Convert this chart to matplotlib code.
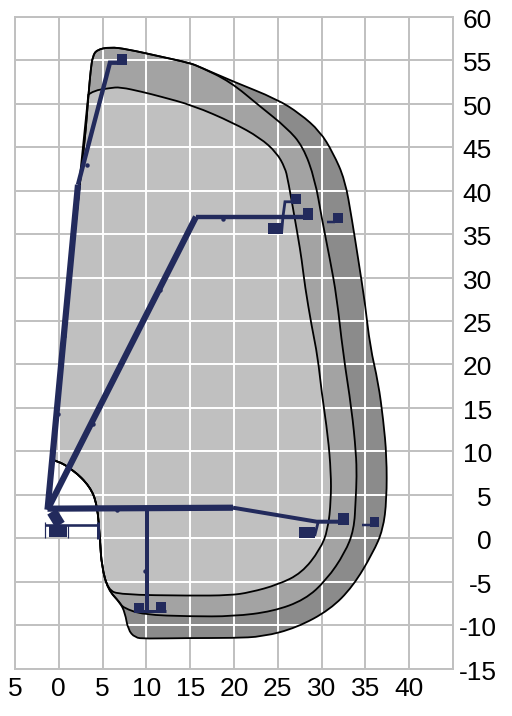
import matplotlib
matplotlib.use("Agg")
import matplotlib.pyplot as plt
import matplotlib.transforms as mtrans
from matplotlib.patches import PathPatch, Rectangle
from matplotlib.path import Path

NAVY = "#222a5c"
PX = 0.72  # one pixel in points at dpi 100

x_ticks = list(range(-5, 46, 5))
x_labels = ["5", "0", "5", "10", "15", "20", "25", "30", "35", "40", ""]
y_ticks = list(range(-15, 61, 5))

# top of the reach diagram, shared by the outer two zones
top_x = [2.5, 2.99, 3.37, 3.64, 3.87, 4.33, 5.84, 7.75, 11.55, 14.98, 16.1]
top_y = [41.65, 45.87, 50.86, 53.93, 55.46, 56.23, 56.54, 56.31, 55.46, 54.7, 54.25]

# lower left corner and the arc round the pivot, shared by all zones
foot_x = [6.99, 5.62, 4.9, 4.7, 4.39, 3.56, 1.62, -0.24, -0.9]
foot_y = [-7.42, -5.93, -3.25, -0.17, 3.86, 5.96, 7.89, 8.96, 9.04]

outer_x = [19.89, 24.87, 27.53, 29.82, 31.3, 32.67, 33.47, 34.19, 34.95, 35.53,
           36.47, 37.04, 37.43, 37.43, 37.01, 35.87, 33.58, 30.96, 27.16, 23.31,
           19.89, 14.98, 9.84, 8.69, 7.9, 7.56]
outer_y = [52.58, 50.56, 48.87, 46.83, 44.38, 41.27, 36.66, 32.06, 27.11, 22.08,
           17.9, 13.64, 9.42, 4.43, 0.98, -1.67, -5.55, -8.23, -10.3, -11.34,
           -11.49, -11.49, -11.57, -11.45, -10.53, -8.58]

mid_x = [19.54, 22.97, 26.02, 27.88, 29.25, 30.05, 30.96, 31.72, 32.44, 33.44,
         33.93, 34.01, 33.89, 33.7, 32.67, 30.58, 28.1, 24.45, 19.89, 14.98,
         9.61, 7.33]
mid_y = [52.58, 49.71, 47.25, 45.1, 41.27, 36.66, 32.06, 27.83, 21.35, 14.79,
         9.84, 7.11, 4.43, 0.98, -1.67, -4.78, -7.08, -8.43, -9.0, -9.0,
         -8.81, -8.0]

inner_x = [3.37, 3.94, 5.84, 6.99, 9.61, 11.55, 15.32, 19.89, 22.97, 24.87, 25.82,
           26.16, 27.3, 27.73, 28.1, 28.87, 29.55, 30.01, 30.73, 31.07, 31.07,
           30.73, 29.82, 27.73, 25.02, 21.83, 19.54, 14.98, 7.0]
inner_y = [51.05, 51.52, 51.82, 51.94, 51.36, 50.86, 49.82, 47.83, 46.1, 44.38, 42.65,
           41.27, 34.74, 32.06, 28.99, 24.38, 20.93, 16.75, 11.72, 7.54, 4.43,
           0.98, -1.32, -4.01, -5.35, -6.24, -6.58, -6.62, -6.5]

# boom arms: x values, y values, width in pixels
arms = [
    ([-1.29, 2.19], [3.28, 40.69], 6.2),
    ([2.19, 5.84, 7.21], [40.69, 54.74, 54.74], 4.4),
    ([-1.29, 15.66], [3.28, 37.0], 6.2),
    ([15.66, 28.45], [37.0, 37.0], 4.4),
    ([25.59, 25.82, 27.08], [37.0, 38.73, 38.73], 2.8),
    ([25.59, 25.44, 24.0], [37.0, 35.31, 35.31], 2.8),
    ([30.62, 31.5], [36.43, 36.43], 2.5),
    ([-1.29, 19.89], [3.4, 3.51], 6.2),
    ([19.89, 29.44, 32.1], [3.51, 1.9, 1.9], 4.0),
    ([29.59, 29.24, 28.1], [1.78, 0.4, 0.4], 2.8),
    ([34.6, 35.74], [1.55, 1.55], 2.5),
    ([10.03, 10.03], [3.28, -8.23], 4.0),
    ([8.58, 12.24], [-8.35, -8.35], 3.0),
    ([-1.58, 4.47], [1.55, 1.55], 2.6),
    ([-1.58, -1.58], [1.9, 0.0], 1.2),
    ([1.05, 1.05], [1.55, 0.0], 1.2),
    ([4.47, 4.47], [1.9, -0.06], 3.0),
    ([-0.78, 0.14], [3.05, 1.55], 11.0),
]

# platforms at the arm ends, centres and sizes in axis units
plat_x = [7.21, 27.08, 24.74, 28.45, 31.87, 32.5, 28.33, 36.04, 9.16, 11.67, -0.09]
plat_y = [55.14, 39.07, 35.69, 37.36, 36.9, 2.24, 0.69, 1.9, -8.0, -7.94, 0.86]
plat_w = [1.2, 1.15, 1.7, 1.15, 1.15, 1.25, 1.8, 1.05, 1.15, 1.15, 2.05]
plat_h = [1.25, 1.15, 1.25, 1.4, 1.15, 1.4, 1.25, 1.15, 1.15, 1.25, 1.4]

# small bumps on the arms
joint_x = [3.2, 1.1, 0.6, -0.1, 11.55, 3.9, 18.7, 6.6, 9.8]
joint_y = [43.0, 28.6, 23.3, 14.3, 28.6, 13.2, 36.7, 3.2, -3.8]


def zone_path(xs, ys):
    # quadratic pieces through the read points, closed along the boom
    verts = [(xs[0], ys[0])]
    codes = [Path.MOVETO]
    for i in range(1, len(xs) - 1):
        if i < len(xs) - 2:
            end = ((xs[i] + xs[i + 1]) / 2, (ys[i] + ys[i + 1]) / 2)
        else:
            end = (xs[i + 1], ys[i + 1])
        verts += [(xs[i], ys[i]), end]
        codes += [Path.CURVE3, Path.CURVE3]
    verts.append((xs[0], ys[0]))
    codes.append(Path.CLOSEPOLY)
    return Path(verts, codes)


def main():
    plt.rcParams["font.family"] = ["Liberation Sans", "DejaVu Sans"]
    fig = plt.figure(figsize=(5.12, 7.16), dpi=100)
    ax = fig.add_axes([15 / 512, 1 - 668.5 / 716, 438 / 512, 651.5 / 716])
    ax.set_xlim(-5, 45)
    ax.set_ylim(-15, 60)

    ax.set_xticks(x_ticks)
    ax.set_xticklabels(x_labels)
    ax.set_yticks(y_ticks)
    ax.set_yticklabels([str(v) for v in y_ticks])
    ax.yaxis.tick_right()
    ax.tick_params(axis="both", length=0, labelsize=19, labelcolor="black")
    ax.tick_params(axis="x", pad=6)
    ax.tick_params(axis="y", pad=28)
    for lab, val in zip(ax.get_yticklabels(), y_ticks):
        lab.set_horizontalalignment("right")
        right = 5 if val < -5 else 0
        shift = mtrans.ScaledTranslation(right / 100, -1.5 / 100, fig.dpi_scale_trans)
        lab.set_transform(lab.get_transform() + shift)
    ax.grid(color="#c0c0c0", lw=1.4)
    ax.set_axisbelow(True)
    for sp in ax.spines.values():
        sp.set_color("#c0c0c0")
        sp.set_linewidth(1.4)

    zones = [
        (top_x + outer_x + foot_x, top_y + outer_y + foot_y, "#8b8b8b"),
        (top_x + mid_x + foot_x, top_y + mid_y + foot_y, "#a3a3a3"),
        (inner_x + foot_x[1:], inner_y + foot_y[1:], "#c0c0c0"),
    ]
    clip = None
    for i, (xs, ys, col) in enumerate(zones):
        patch = PathPatch(zone_path(xs, ys), facecolor=col, edgecolor="none", zorder=2 + i)
        ax.add_patch(patch)
        if clip is None:
            clip = patch

    # grid shows white inside the outer zone
    vl = ax.vlines(x_ticks[1:-1], -15, 60, color="white", lw=1.4, zorder=5)
    hl = ax.hlines(y_ticks[1:-1], -5, 45, color="white", lw=1.4, zorder=5)
    vl.set_clip_path(clip)
    hl.set_clip_path(clip)

    for xs, ys, col in zones:
        ax.add_patch(PathPatch(zone_path(xs, ys), facecolor="none", edgecolor="black",
                               lw=1.3, zorder=6))

    for xs, ys, wid in arms:
        ax.plot(xs, ys, color=NAVY, lw=wid * PX, solid_capstyle="butt",
                solid_joinstyle="miter", zorder=7)
    for cx, cy, w, h in zip(plat_x, plat_y, plat_w, plat_h):
        ax.add_patch(Rectangle((cx - w / 2, cy - h / 2), w, h, facecolor=NAVY,
                               edgecolor="none", zorder=8))
    ax.plot(joint_x, joint_y, ls="none", marker="o", ms=3.2, color=NAVY, mew=0, zorder=8)

    fig.savefig("out.png", dpi=100)


if __name__ == "__main__":
    main()
